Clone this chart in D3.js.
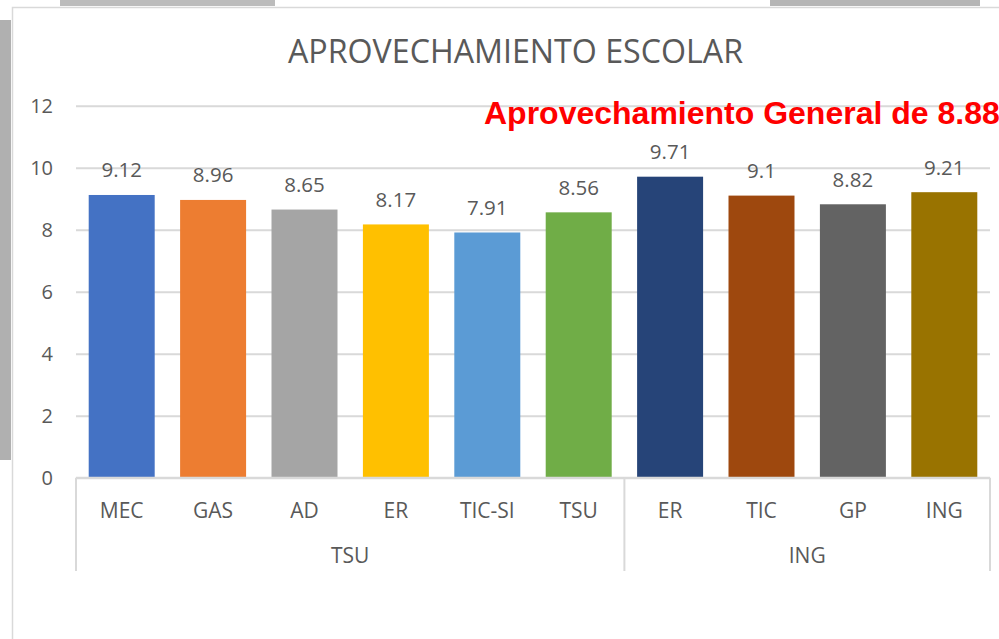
<!DOCTYPE html>
<html>
<head>
<meta charset="utf-8">
<script src="https://cdn.jsdelivr.net/npm/d3@7"></script>
<style>
  html, body { margin: 0; padding: 0; background: #fff; }
  svg { display: block; }
</style>
</head>
<body>
<div id="chart"></div>
<script>
// data
const categories = ["MEC", "GAS", "AD", "ER", "TIC-SI", "TSU", "ER", "TIC", "GP", "ING"];
const groups = ["TSU", "TSU", "TSU", "TSU", "TSU", "TSU", "ING", "ING", "ING", "ING"];
const values = [9.12, 8.96, 8.65, 8.17, 7.91, 8.56, 9.71, 9.1, 8.82, 9.21];
const valueLabels = ["9.12", "8.96", "8.65", "8.17", "7.91", "8.56", "9.71", "9.1", "8.82", "9.21"];
const barColors = ["#4472C4", "#ED7D31", "#A5A5A5", "#FFC000", "#5B9BD5",
                   "#70AD47", "#264478", "#9E480E", "#636363", "#997300"];
const yTicks = [0, 2, 4, 6, 8, 10, 12];
const title = "APROVECHAMIENTO ESCOLAR";
const note = "Aprovechamiento General de 8.88";

const width = 999, height = 639;
const plot = { left: 76, right: 990, top: 105.7, bottom: 477.7 };
const textColor = "#595959";
const lineColor = "#d9d9d9";
const font = "'Open Sans', sans-serif";

const svg = d3.select("#chart").append("svg")
    .attr("width", width)
    .attr("height", height);

// grey scan background around the chart box
svg.append("rect").attr("x", 0).attr("y", 0).attr("width", width).attr("height", height).attr("fill", "#fff");
svg.append("rect").attr("x", 0).attr("y", 20).attr("width", 11).attr("height", 440).attr("fill", "#b0b0b0");
svg.append("rect").attr("x", 60).attr("y", 0).attr("width", 215).attr("height", 6).attr("fill", "#bcbcbc");
svg.append("rect").attr("x", 770).attr("y", 0).attr("width", 210).attr("height", 6).attr("fill", "#b5b5b5");

// chart box
svg.append("rect")
    .attr("x", 12.5).attr("y", 7.5)
    .attr("width", 1100).attr("height", 700)
    .attr("fill", "#fff")
    .attr("stroke", lineColor)
    .attr("stroke-width", 1.5);

const x = d3.scaleBand()
    .domain(d3.range(categories.length))
    .range([plot.left, plot.right])
    .paddingInner(0.278)
    .paddingOuter(0.139);

const y = d3.scaleLinear()
    .domain([0, 12])
    .range([plot.bottom, plot.top]);

// gridlines + y labels
const yAxis = d3.axisLeft(y)
    .tickValues(yTicks)
    .tickSize(-(plot.right - plot.left))
    .tickPadding(23);
const gy = svg.append("g")
    .attr("transform", `translate(${plot.left},0)`)
    .call(yAxis);
gy.select(".domain").remove();
gy.selectAll(".tick line").attr("stroke", lineColor).attr("stroke-width", 2);
gy.selectAll(".tick text")
    .attr("fill", textColor)
    .style("font-family", font)
    .style("font-size", "20px");

// bars
svg.append("g").selectAll("rect")
    .data(values)
    .join("rect")
    .attr("x", (d, i) => x(i))
    .attr("y", d => y(d))
    .attr("width", x.bandwidth())
    .attr("height", d => y(0) - y(d))
    .attr("fill", (d, i) => barColors[i]);

// value labels
svg.append("g").selectAll("text")
    .data(values)
    .join("text")
    .attr("x", (d, i) => x(i) + x.bandwidth() / 2)
    .attr("y", d => y(d) - 17.5)
    .attr("text-anchor", "middle")
    .attr("fill", textColor)
    .style("font-family", font)
    .style("font-size", "20.5px")
    .text((d, i) => valueLabels[i]);

// x axis: baseline, category labels, group labels and separators
svg.append("line")
    .attr("x1", plot.left).attr("x2", plot.right)
    .attr("y1", plot.bottom).attr("y2", plot.bottom)
    .attr("stroke", lineColor).attr("stroke-width", 2);

svg.append("g").selectAll("text")
    .data(categories)
    .join("text")
    .attr("x", (d, i) => x(i) + x.bandwidth() / 2)
    .attr("y", 517.5)
    .attr("text-anchor", "middle")
    .attr("fill", textColor)
    .style("font-family", font)
    .style("font-size", "21px")
    .text(d => d);

const step = x.step();
const groupNames = Array.from(new Set(groups));
const groupSpans = groupNames.map(g => {
  const idx = d3.range(groups.length).filter(i => groups[i] === g);
  const x0 = x(idx[0]) - x.paddingInner() * step / 2;
  const x1 = x(idx[idx.length - 1]) + x.bandwidth() + x.paddingInner() * step / 2;
  return { name: g, x0: x0, x1: x1 };
});
// outer edges line up with the plot edges
groupSpans[0].x0 = plot.left;
groupSpans[groupSpans.length - 1].x1 = plot.right;

const seps = [plot.left].concat(groupSpans.map(s => s.x1));
svg.append("g").selectAll("line")
    .data(seps)
    .join("line")
    .attr("x1", d => d).attr("x2", d => d)
    .attr("y1", plot.bottom).attr("y2", 571)
    .attr("stroke", lineColor).attr("stroke-width", 2);

svg.append("g").selectAll("text")
    .data(groupSpans)
    .join("text")
    .attr("x", d => (d.x0 + d.x1) / 2)
    .attr("y", 563)
    .attr("text-anchor", "middle")
    .attr("fill", textColor)
    .style("font-family", font)
    .style("font-size", "21px")
    .text(d => d.name);

// title
svg.append("text")
    .attr("x", 515.5)
    .attr("y", 63)
    .attr("text-anchor", "middle")
    .attr("fill", textColor)
    .style("font-family", font)
    .style("font-size", "32.2px")
    .text(title);

// red annotation
svg.append("text")
    .attr("x", 484)
    .attr("y", 124)
    .attr("fill", "#ff0000")
    .style("font-family", "'Liberation Sans', Arial, sans-serif")
    .style("font-weight", "bold")
    .style("font-size", "32px")
    .text(note);
</script>
</body>
</html>
